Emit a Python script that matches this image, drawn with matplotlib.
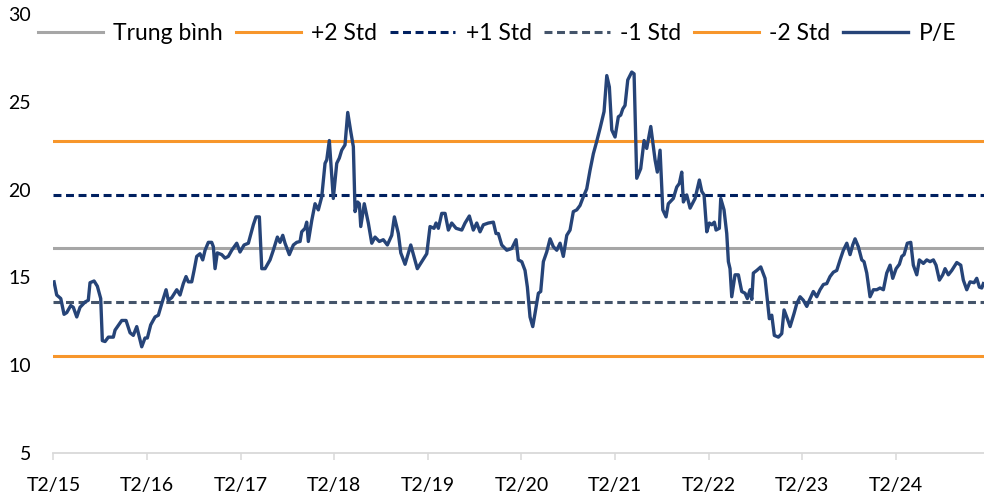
import matplotlib
matplotlib.use("Agg")
import matplotlib.pyplot as plt

plt.rcParams['font.family'] = ['Lato', 'DejaVu Sans']

# months since T2/15 (Feb 2015)
months = [0.08, 0.42, 0.94, 1.36, 1.71, 2.22, 2.55, 2.99, 3.41, 4.05, 4.47, 4.69, 5.21, 5.63, 6.06,
          6.27, 6.62, 7.04, 7.68, 7.9, 8.76, 9.31, 9.82, 10.24, 10.68, 11.32, 11.74, 12.04, 12.47,
          13.03, 13.45, 13.88, 14.44, 14.73, 15.17, 15.81, 16.23, 16.65, 17.0, 17.29, 17.73, 18.03,
          18.37, 18.79, 19.14, 19.44, 19.86, 20.29, 20.5, 20.72, 21.01, 21.58, 22.0, 22.42, 22.86,
          23.5, 23.92, 24.44, 24.99, 25.63, 25.97, 26.4, 26.71, 27.13, 27.77, 28.19, 28.71, 29.05,
          29.4, 29.69, 30.24, 30.76, 31.19, 31.62, 31.83, 32.26, 32.47, 32.68, 33.12, 33.54, 33.96,
          34.4, 34.82, 35.04, 35.37, 35.88, 36.32, 36.65, 36.96, 37.38, 37.73, 38.12, 38.45, 38.67,
          38.99, 39.22, 39.4, 39.85, 40.37, 40.81, 41.23, 41.78, 42.29, 42.81, 43.37, 43.71, 44.22,
          44.53, 45.08, 45.81, 46.65, 47.22, 47.86, 48.28, 48.79, 49.05, 49.35, 49.78, 50.21, 50.63,
          51.06, 51.62, 52.35, 52.77, 53.32, 53.83, 54.27, 54.69, 55.12, 55.76, 56.4, 56.74, 57.04,
          57.47, 58.12, 58.76, 59.31, 59.6, 60.04, 60.46, 60.76, 61.1, 61.45, 61.74, 62.17, 62.47,
          62.81, 63.24, 63.67, 64.09, 64.53, 64.95, 65.37, 65.81, 66.23, 66.65, 67.09, 67.51, 67.94,
          68.37, 68.79, 69.22, 69.65, 70.08, 70.59, 70.94, 71.27, 71.58, 72.0, 72.42, 72.73, 72.99,
          73.28, 73.63, 74.14, 74.44, 74.78, 75.29, 75.72, 76.06, 76.58, 77.13, 77.42, 77.77, 78.12,
          78.54, 78.83, 79.47, 79.91, 80.24, 80.55, 80.76, 81.19, 81.62, 82.26, 82.81, 83.12, 83.41,
          83.76, 84.09, 84.4, 84.73, 84.95, 85.37, 85.55, 85.97, 86.32, 86.53, 86.74, 86.96, 87.38,
          87.81, 88.24, 88.67, 88.96, 89.31, 89.53, 89.73, 90.17, 90.68, 91.23, 91.53, 91.78, 92.09,
          92.42, 92.94, 93.37, 93.67, 94.09, 94.44, 94.95, 95.29, 95.72, 96.14, 96.58, 96.91, 97.42,
          97.86, 98.28, 98.71, 99.14, 99.56, 99.99, 100.42, 100.85, 101.27, 101.71, 102.13, 102.47,
          102.77, 103.19, 103.63, 103.92, 104.27, 104.69, 105.12, 105.55, 105.97, 106.4, 106.83,
          107.26, 107.6, 108.03, 108.45, 108.76, 109.05, 109.47, 109.91, 110.24, 110.68, 111.01,
          111.53, 111.96, 112.38, 112.81, 113.15, 113.58, 114.01, 114.31, 114.73, 115.17, 115.81,
          116.32, 116.65, 117.09, 117.51, 118.03, 118.37, 118.71, 119.01, 119.22]

pe = [14.75, 14.0, 13.8, 12.9, 13.0, 13.4, 13.3, 12.75, 13.3, 13.6, 13.7, 14.7, 14.8, 14.5, 13.8,
      11.4, 11.35, 11.6, 11.6, 12.0, 12.55, 12.55, 11.85, 11.7, 12.2, 11.05, 11.55, 11.55, 12.3,
      12.75, 12.85, 13.5, 14.3, 13.7, 13.85, 14.3, 14.0, 14.65, 15.05, 14.75, 14.75, 15.4,
      16.2, 16.35, 16.0, 16.55, 17.0, 17.0, 16.75, 15.5, 16.4, 16.3, 16.1, 16.2, 16.55,
      16.95, 16.45, 16.85, 16.95, 18.0, 18.45, 18.45, 15.5, 15.5, 16.0, 16.55, 17.3, 17.0,
      17.4, 16.95, 16.3, 16.85, 17.0, 17.05, 17.6, 17.8, 18.15, 17.05, 18.25, 19.2, 18.85,
      19.6, 21.5, 21.7, 22.8, 19.5, 21.5, 21.8, 22.25, 22.55, 24.4, 23.3, 22.45, 18.75,
      19.3, 19.2, 17.9, 19.2, 18.1, 16.95, 17.3, 17.05, 17.15, 16.85, 17.4, 18.45, 17.5,
      16.4, 15.75, 16.85, 15.5, 15.9, 16.35, 17.9, 17.8, 18.1, 17.8, 18.65, 18.65, 17.7,
      18.1, 17.8, 17.7, 18.1, 18.5, 17.7, 18.1, 17.6, 18.0, 18.1, 18.15, 17.5, 17.5,
      16.85, 16.55, 16.65, 17.15, 16.0, 15.9, 15.4, 14.45, 12.75, 12.2, 12.95, 14.1, 14.2,
      15.9, 16.45, 17.2, 16.75, 16.55, 16.95, 16.2, 17.4, 17.7, 18.75, 18.85, 19.1, 19.6,
      20.05, 21.1, 22.05, 22.75, 23.5, 24.45, 26.5, 25.85, 23.4, 23.0, 24.15, 24.25, 24.6,
      24.8, 26.25, 26.7, 26.6, 20.65, 21.2, 22.8, 22.35, 23.6, 21.7, 21.0, 22.25, 18.85,
      18.45, 19.2, 19.5, 20.15, 20.35, 21.0, 19.3, 19.7, 18.95, 19.5, 20.55, 19.9, 19.7,
      17.6, 18.1, 18.0, 18.15, 17.7, 17.8, 19.5, 18.85, 17.5, 15.9, 15.5, 13.9, 15.15,
      15.15, 14.2, 14.1, 13.8, 14.3, 13.75, 15.25, 15.4, 15.6, 14.95, 13.7, 12.65, 12.85,
      11.7, 11.6, 11.8, 13.15, 12.65, 12.2, 12.95, 13.5, 13.9, 13.7, 13.35, 13.7, 14.2,
      13.9, 14.3, 14.6, 14.65, 15.05, 15.3, 15.4, 16.0, 16.55, 16.95, 16.3, 16.85,
      17.2, 16.75, 16.0, 15.9, 15.25, 13.9, 14.3, 14.3, 14.4, 14.3, 15.25,
      15.7, 14.95, 15.5, 15.75, 16.2, 16.3, 16.95, 17.0, 15.7, 15.15, 16.0,
      15.8, 16.0, 15.9, 16.0, 15.7, 14.85, 15.15, 15.5, 15.15, 15.4, 15.85,
      15.7, 14.85, 14.3, 14.75, 14.7, 14.95, 14.45, 14.4, 14.65]

mean_pe = 16.65
plus2 = 22.75
plus1 = 19.7
minus1 = 13.6
minus2 = 10.55

tick_months = [0, 12, 24, 36, 48, 60, 72, 84, 96, 108]
tick_labels = ['T2/15', 'T2/16', 'T2/17', 'T2/18', 'T2/19', 'T2/20', 'T2/21', 'T2/22', 'T2/23', 'T2/24']

fig = plt.figure(figsize=(9.84, 5.01), dpi=100)
ax = fig.add_axes([0.0543, 0.0958, 0.9457, 0.876])

lw = 2.2
ax.axhline(mean_pe, color='#A6A6A6', lw=lw, label='Trung bình')
ax.axhline(plus2, color='#F7962B', lw=lw, label='+2 Std')
ax.axhline(plus1, color='#002060', lw=lw, ls=(0, (2.6, 1.5)), label='+1 Std')
ax.axhline(minus1, color='#44546A', lw=lw, ls=(0, (2.6, 1.5)), label='-1 Std')
ax.axhline(minus2, color='#F7962B', lw=lw, label='-2 Std')
ax.plot(months, pe, color='#264478', lw=2.4, label='P/E')

ax.set_xlim(0, 119.3)
ax.set_ylim(5, 30)
ax.set_yticks([5, 10, 15, 20, 25, 30])
ax.set_xticks(tick_months)
ax.set_xticklabels(tick_labels)

for s in ['top', 'right', 'left']:
    ax.spines[s].set_visible(False)
ax.spines['bottom'].set_color('#D9D9D9')
ax.spines['bottom'].set_linewidth(1.3)

ax.tick_params(axis='y', length=0, pad=16, labelsize=14)
ax.tick_params(axis='x', length=5, width=1.1, color='#D9D9D9', pad=12, labelsize=14)

fig.legend(loc='center', bbox_to_anchor=(0.505, 0.934), ncol=6, frameon=False,
           fontsize=16.5, handlelength=2.85, handletextpad=0.45, columnspacing=0.55)

fig.savefig('out.png', dpi=100)
